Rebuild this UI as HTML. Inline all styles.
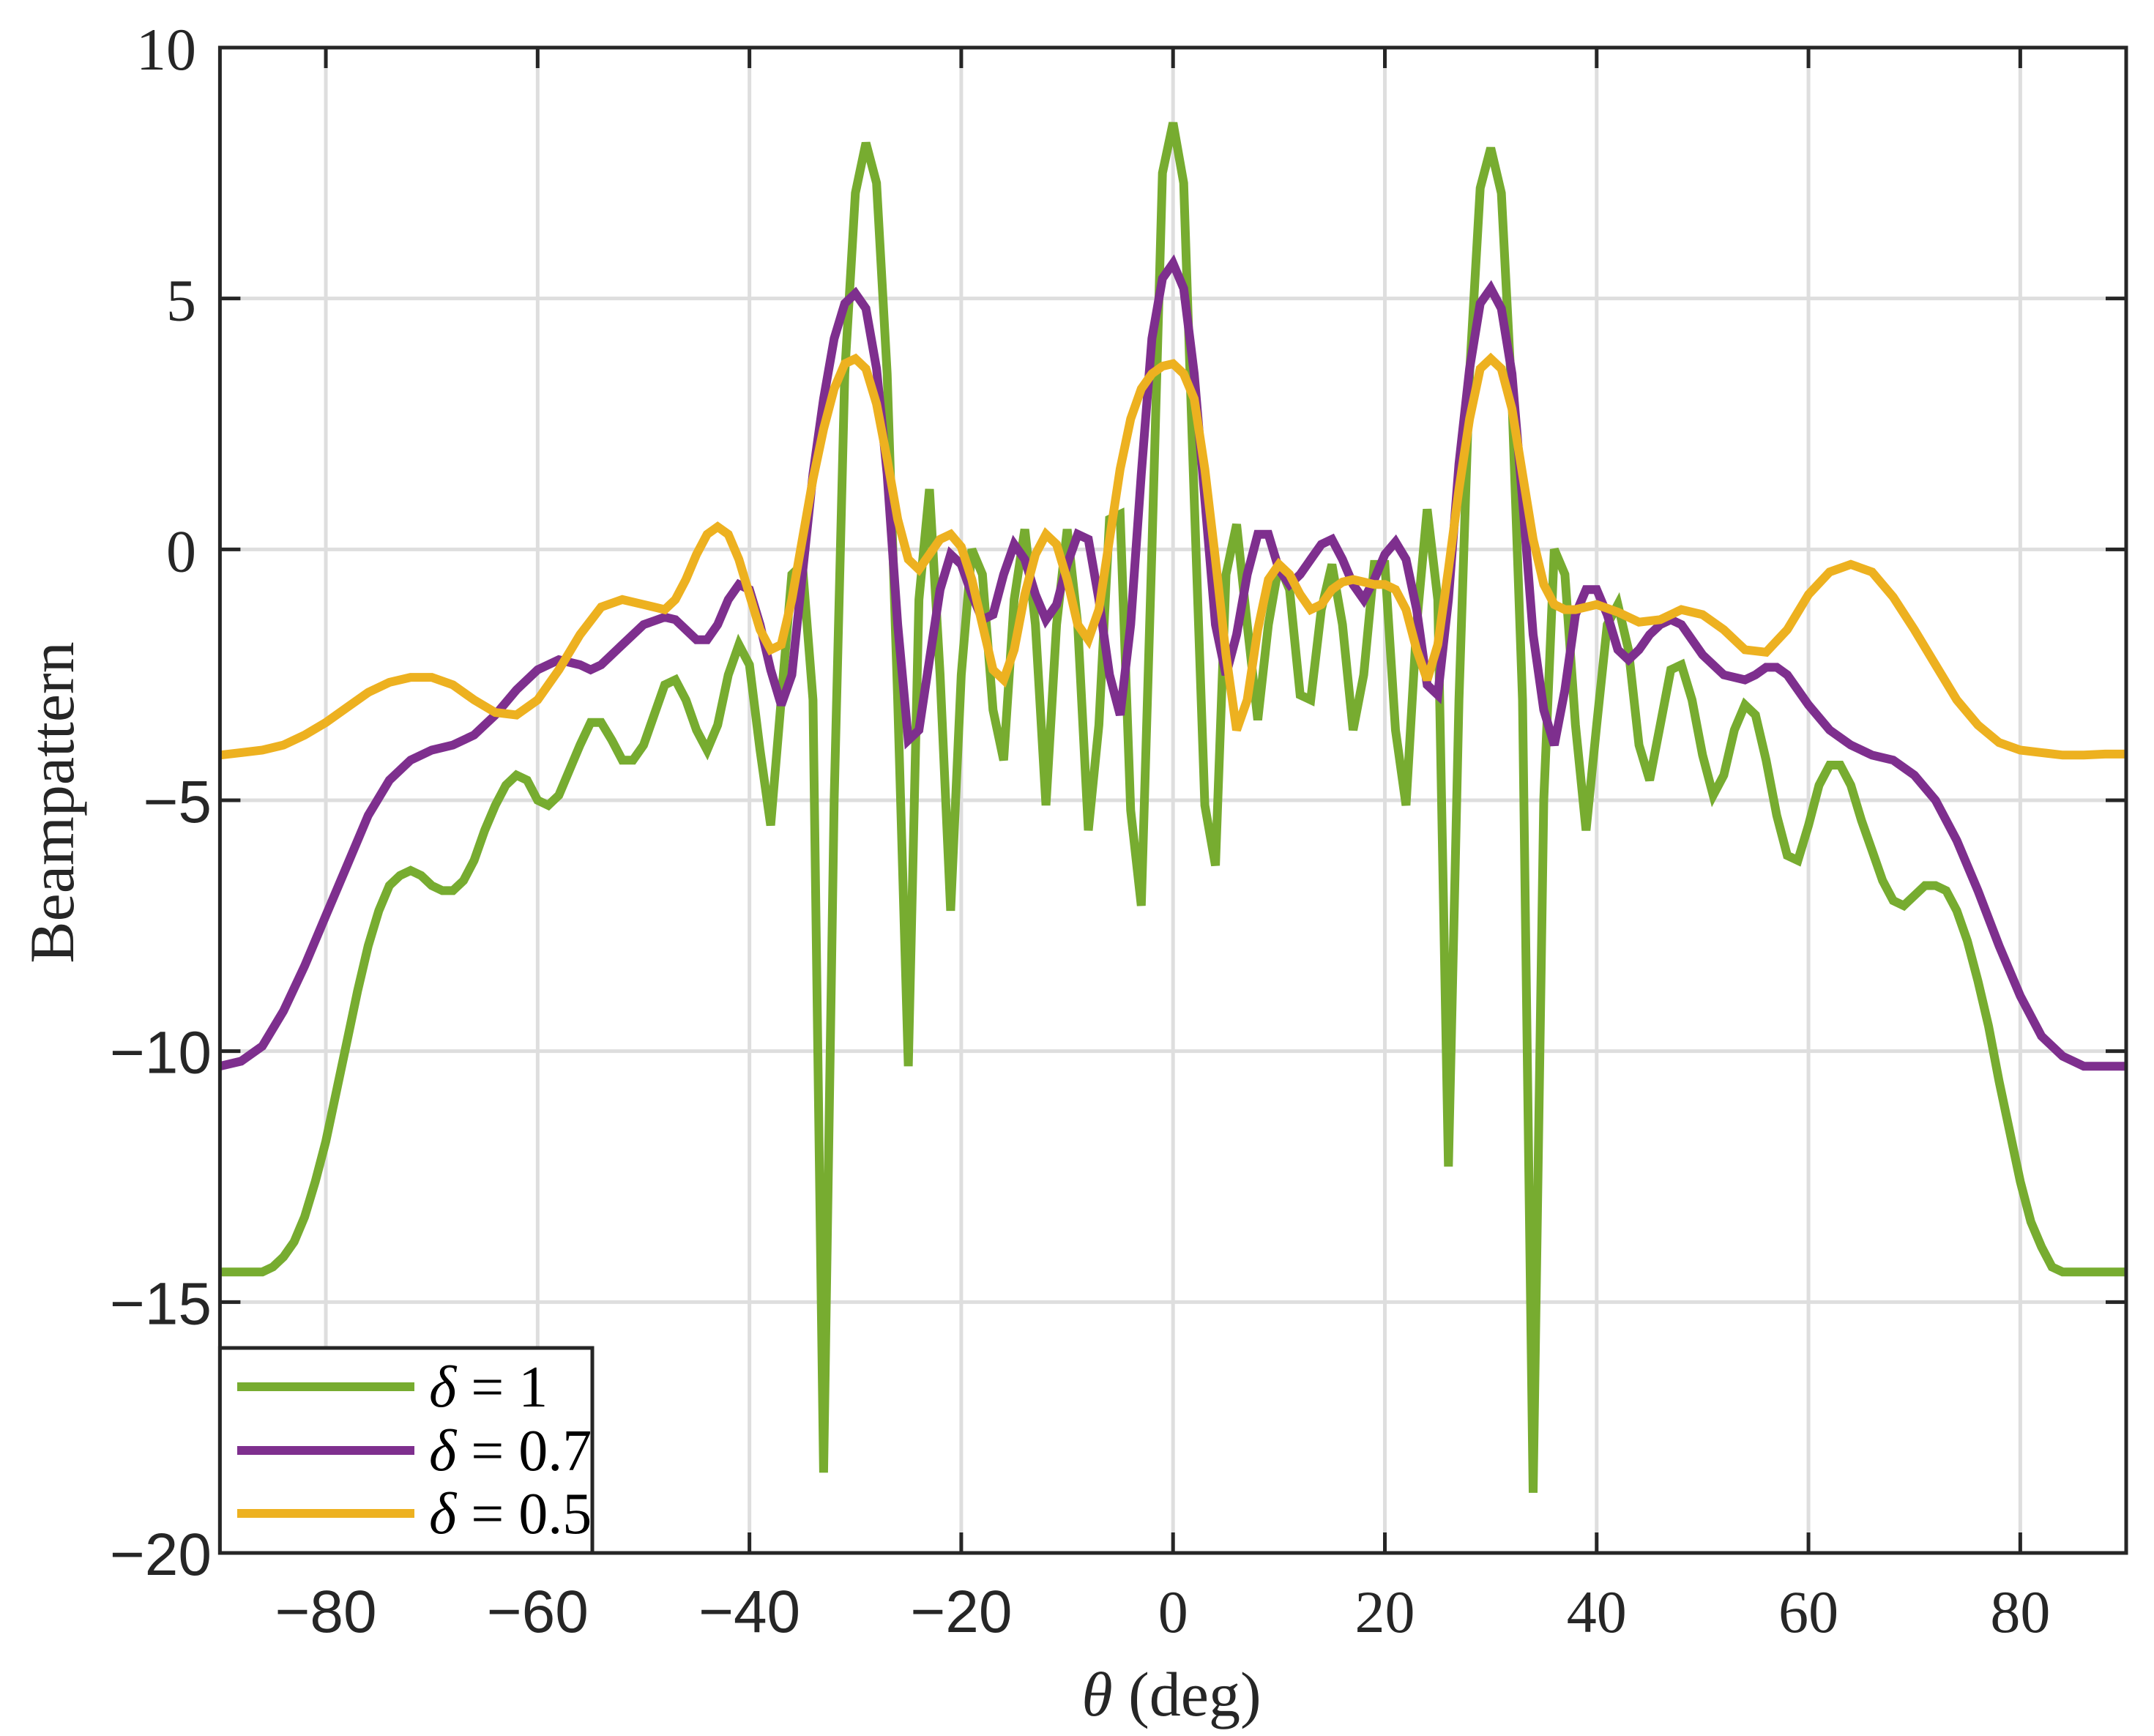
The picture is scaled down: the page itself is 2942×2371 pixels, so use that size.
<!DOCTYPE html>
<html><head><meta charset="utf-8">
<style>
html,body{margin:0;padding:0;background:#fff;}
svg{display:block;}
.serif{font-family:"Liberation Serif",serif;}
.sans{font-family:"Liberation Sans",sans-serif;}
</style></head>
<body>
<svg id="chart" width="2942" height="2371" viewBox="0 0 2942 2371" xmlns="http://www.w3.org/2000/svg">
<rect x="0" y="0" width="2942" height="2371" fill="#fff"/>
<g id="grid"></g>
<g id="series"></g>
<g id="axes"></g>
<text class="serif" x="1600" y="2343" font-size="86" text-anchor="middle" fill="#262626"><tspan font-style="italic">θ</tspan> (deg)</text>
<text class="serif" x="0" y="0" font-size="86" text-anchor="middle" fill="#262626" transform="translate(100,1096) rotate(-90)">Beampattern</text>
<g id="legend"></g>
</svg>
<script>
const xTicks=[-80,-60,-40,-20,0,20,40,60,80];
const xTickSans=[true,true,true,true,false,false,false,false,false];
const yTicks=[10,5,0,-5,-10,-15,-20];
const yTickSans=[false,false,false,true,true,true,true];
const legendLabels=["1","0.7","0.5"];
const seriesColors=["#77ac30","#7e2f8e","#edb120"];

const thetaG=[];for(let t=-90;t<=90;t++)thetaG.push(t);
const green=[-14.4,-14.4,-14.4,-14.4,-14.4,-14.3,-14.1,-13.8,-13.3,-12.6,-11.8,-10.8,-9.8,-8.8,-7.9,-7.2,-6.7,-6.5,-6.4,-6.5,-6.7,-6.8,-6.8,-6.6,-6.2,-5.6,-5.1,-4.7,-4.5,-4.6,-5.0,-5.1,-4.9,-4.4,-3.9,-3.45,-3.45,-3.8,-4.2,-4.2,-3.9,-3.3,-2.7,-2.6,-3.0,-3.6,-4.0,-3.5,-2.5,-1.9,-2.3,-4.0,-5.5,-3.0,-0.5,-0.3,-3.0,-18.4,-5.0,3.5,7.1,8.1,7.3,3.5,-3.0,-10.3,-1.0,1.2,-2.5,-7.2,-2.5,0.0,-0.5,-3.2,-4.2,-1.0,0.4,-1.5,-5.1,-1.5,0.4,-1.5,-5.6,-3.5,0.6,0.7,-5.2,-7.1,0.0,7.5,8.5,7.3,1.0,-5.1,-6.3,-0.5,0.5,-1.5,-3.4,-1.5,-0.3,-0.8,-2.9,-3.0,-1.2,-0.3,-1.5,-3.6,-2.5,-0.3,-0.3,-3.6,-5.1,-1.5,0.8,-1.0,-12.3,-3.0,3.5,7.2,8.0,7.1,3.0,-3.0,-18.8,-5.0,0.0,-0.5,-3.5,-5.6,-3.5,-1.5,-1.1,-2.0,-3.9,-4.6,-3.5,-2.4,-2.3,-3.0,-4.1,-4.9,-4.5,-3.6,-3.1,-3.3,-4.2,-5.3,-6.1,-6.2,-5.5,-4.7,-4.3,-4.3,-4.7,-5.4,-6.0,-6.6,-7.0,-7.1,-6.9,-6.7,-6.7,-6.8,-7.2,-7.8,-8.6,-9.5,-10.6,-11.6,-12.6,-13.4,-13.9,-14.3,-14.4,-14.4,-14.4,-14.4,-14.4,-14.4,-14.4];

const thetaP=[-90,-88,-86,-84,-82,-80,-78,-76,-74,-72,-70,-68,-66,-64,-62,-60,-58,-56,-55,-54,-52,-50,-48,-47,-46,-45,-44,-43,-42,-41,-40,-39,-38,-37,-36,-35,-34,-33,-32,-31,-30,-29,-28,-27,-26,-25,-24,-23,-22,-21,-20,-19,-18,-17,-16,-15,-14,-13,-12,-11,-10,-9,-8,-7,-6,-5,-4,-3,-2,-1,0,1,2,3,4,5,6,7,8,9,10,11,12,13,14,15,16,17,18,19,20,21,22,23,24,25,26,27,28,29,30,31,32,33,34,35,36,37,38,39,40,41,42,43,44,45,46,47,48,50,52,54,55,56,57,58,60,62,64,66,68,70,72,74,76,78,80,82,84,86,88,90];
const purple=[-10.3,-10.2,-9.9,-9.2,-8.3,-7.3,-6.3,-5.3,-4.6,-4.2,-4.0,-3.9,-3.7,-3.3,-2.8,-2.4,-2.2,-2.3,-2.4,-2.3,-1.9,-1.5,-1.35,-1.4,-1.6,-1.8,-1.8,-1.5,-1.0,-0.7,-0.8,-1.5,-2.4,-3.1,-2.5,-0.5,1.5,3.0,4.2,4.9,5.1,4.8,3.6,1.5,-1.5,-3.8,-3.6,-2.2,-0.8,-0.1,-0.3,-0.9,-1.4,-1.3,-0.5,0.1,-0.2,-0.9,-1.4,-1.1,-0.3,0.3,0.2,-1.0,-2.5,-3.3,-1.5,1.5,4.2,5.4,5.7,5.2,3.5,1.0,-1.5,-2.5,-1.7,-0.5,0.3,0.3,-0.4,-0.7,-0.5,-0.2,0.1,0.2,-0.2,-0.7,-1.0,-0.6,-0.1,0.15,-0.2,-1.2,-2.7,-2.9,-1.0,1.7,3.6,4.9,5.2,4.8,3.5,1.0,-1.7,-3.2,-3.9,-2.8,-1.3,-0.8,-0.8,-1.3,-2.0,-2.2,-2.0,-1.7,-1.5,-1.4,-1.5,-2.1,-2.5,-2.6,-2.5,-2.35,-2.35,-2.5,-3.1,-3.6,-3.9,-4.1,-4.2,-4.5,-5.0,-5.8,-6.8,-7.9,-8.9,-9.7,-10.1,-10.3,-10.3,-10.3];

const thetaY=[-90,-88,-86,-84,-82,-80,-78,-76,-74,-72,-70,-68,-66,-64,-62,-60,-58,-56,-54,-52,-50,-48,-47,-46,-45,-44,-43,-42,-41,-40,-39,-38,-37,-36,-35,-34,-33,-32,-31,-30,-29,-28,-27,-26,-25,-24,-23,-22,-21,-20,-19,-18,-17,-16,-15,-14,-13,-12,-11,-10,-9,-8,-7,-6,-5,-4,-3,-2,-1,0,1,2,3,4,5,6,7,8,9,10,11,12,13,14,15,16,17,18,19,20,21,22,23,24,25,26,27,28,29,30,31,32,33,34,35,36,37,38,40,42,44,46,48,50,52,54,56,58,60,62,64,66,68,70,72,74,76,78,80,82,84,86,88,90];
const yellow=[-4.1,-4.05,-4.0,-3.9,-3.7,-3.45,-3.15,-2.85,-2.65,-2.55,-2.55,-2.7,-3.0,-3.25,-3.3,-3.0,-2.4,-1.7,-1.15,-1.0,-1.1,-1.2,-1.0,-0.6,-0.1,0.3,0.45,0.3,-0.2,-0.9,-1.6,-2.0,-1.9,-1.0,0.2,1.4,2.4,3.2,3.7,3.8,3.6,2.9,1.8,0.6,-0.2,-0.4,-0.1,0.2,0.3,0.05,-0.6,-1.5,-2.4,-2.6,-2.0,-0.9,-0.1,0.3,0.1,-0.6,-1.5,-1.8,-1.2,0.2,1.6,2.6,3.2,3.5,3.65,3.7,3.5,3.0,1.6,-0.2,-2.1,-3.6,-3.0,-1.6,-0.6,-0.3,-0.5,-0.9,-1.2,-1.1,-0.8,-0.65,-0.6,-0.65,-0.7,-0.7,-0.8,-1.2,-2.0,-2.6,-1.9,-0.4,1.2,2.6,3.6,3.8,3.6,2.8,1.5,0.2,-0.7,-1.1,-1.2,-1.2,-1.1,-1.25,-1.45,-1.4,-1.2,-1.3,-1.6,-2.0,-2.05,-1.6,-0.9,-0.45,-0.3,-0.45,-0.95,-1.6,-2.3,-3.0,-3.5,-3.85,-4.0,-4.05,-4.1,-4.1,-4.08,-4.08];

const X0=300.4,X1=2904,Y0=65,Y1=2121;
function xs(t){return X0+(t+90)/180*(X1-X0);}
function ys(v){return Y0+(10-v)/30*(Y1-Y0);}
const NS="http://www.w3.org/2000/svg";
function mk(tag,attrs,parent){const e=document.createElementNS(NS,tag);for(const k in attrs)e.setAttribute(k,attrs[k]);parent.appendChild(e);return e;}
const grid=document.getElementById('grid'),axes=document.getElementById('axes'),ser=document.getElementById('series'),leg=document.getElementById('legend');

xTicks.forEach((t,i)=>{
  const g=mk('line',{x1:xs(t),x2:xs(t),y1:Y0,y2:Y1,stroke:'#dedede','stroke-width':5},grid);
  
  
  const tk1=mk('line',{x1:xs(t),x2:xs(t),y1:Y1,y2:Y1-28,stroke:'#262626','stroke-width':5},axes);
  
  
  const tk2=mk('line',{x1:xs(t),x2:xs(t),y1:Y0,y2:Y0+28,stroke:'#262626','stroke-width':5},axes);
  
  
  const lb=mk('text',{x:xs(t),y:2229,'font-size':xTickSans[i]?82:82,'text-anchor':'middle',fill:'#262626','class':xTickSans[i]?'sans':'serif'},axes);
  lb.textContent=(t<0?'\u2212'+(-t):String(t));
  
  
});
yTicks.forEach((v,i)=>{
  const g=mk('line',{x1:X0,x2:X1,y1:ys(v),y2:ys(v),stroke:'#dedede','stroke-width':5},grid);
  
  
  const tk1=mk('line',{x1:X0,x2:X0+28,y1:ys(v),y2:ys(v),stroke:'#262626','stroke-width':5},axes);
  
  
  const tk2=mk('line',{x1:X1,x2:X1-28,y1:ys(v),y2:ys(v),stroke:'#262626','stroke-width':5},axes);
  
  
  const lb=mk('text',{x:yTickSans[i]?289:268,y:ys(v)+30,'font-size':82,'text-anchor':'end',fill:'#262626','class':yTickSans[i]?'sans':'serif'},axes);
  lb.textContent=(v<0?'\u2212'+(-v):String(v));
  
  
});
const frame=mk('rect',{x:X0,y:Y0,width:X1-X0,height:Y1-Y0,fill:'none',stroke:'#262626','stroke-width':5},axes);



const allT=[thetaG,thetaP,thetaY],allV=[green,purple,yellow],names=['series-delta-1','series-delta-0.7','series-delta-0.5'];
for(let s=0;s<3;s++){
  const pts=allT[s].map((t,i)=>xs(t).toFixed(1)+','+ys(allV[s][i]).toFixed(1)).join(' ');
  const pl=mk('polyline',{points:pts,fill:'none',stroke:seriesColors[s],'stroke-width':12,'stroke-linejoin':'miter','stroke-miterlimit':3},ser);
  
  
}

const lb=mk('rect',{x:X0,y:1841,width:809-X0,height:Y1-1841,fill:'#fff',stroke:'#262626','stroke-width':5},leg);


const ly=[1894,1981,2067];
for(let s=0;s<3;s++){
  const l=mk('line',{x1:324,x2:566,y1:ly[s],y2:ly[s],stroke:seriesColors[s],'stroke-width':12},leg);
  
  
  const t=mk('text',{x:586,y:ly[s]+27,'font-size':80,fill:'#000','class':'serif'},leg);
  t.innerHTML='<tspan font-style="italic">δ</tspan> = '+legendLabels[s];
  
  
}
</script>
</body></html>
